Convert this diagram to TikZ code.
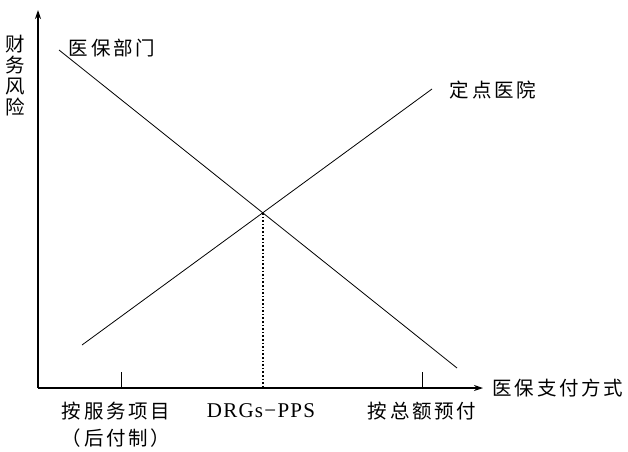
\documentclass[tikz,border=0pt]{standalone}
\usepackage{fontspec}
\usetikzlibrary{arrows.meta}
\newfontfamily\cjk[LetterSpace=14]{Noto Sans CJK SC}
\newfontfamily\lat[LetterSpace=6]{Liberation Serif}
\begin{document}
\begin{tikzpicture}[x=1pt,y=-1pt,
  lbl/.style={inner sep=0pt,font=\cjk\fontsize{19.5}{21}\selectfont},
  axis/.style={line width=1.1pt,-{Stealth[length=9pt,width=6pt]}},
  curve/.style={line width=0.8pt}]
\useasboundingbox (0,0) rectangle (628,451);
\coordinate (O) at (38,388);
\coordinate (ytip) at (38,10);
\coordinate (xtip) at (483,388);
\draw[axis] (O) -- (ytip);
\draw[axis] (O) -- (xtip);
\coordinate (t1a) at (121,372); \coordinate (t1b) at (121,388);
\coordinate (t2a) at (422,372); \coordinate (t2b) at (422,388);
\draw[line width=0.8pt] (t1a) -- (t1b);
\draw[line width=0.8pt] (t2a) -- (t2b);
\coordinate (a1) at (59,50); \coordinate (a2) at (457,368);
\coordinate (b1) at (82,345); \coordinate (b2) at (432,89);
\draw[curve] (a1) -- (a2);
\draw[curve] (b1) -- (b2);
\coordinate (X) at (263,213); \coordinate (Xb) at (263,388);
\draw[line width=1.6pt,dotted] (X) -- (Xb);
\node[lbl,align=center] (ylab) at (15,76) {财\\[0pt]务\\[0pt]风\\[0pt]险};
\node[lbl] (yb) at (112,48) {医保部门};
\node[lbl] (dd) at (493,90) {定点医院};
\node[lbl] (xlab) at (558,388) {医保支付方式};
\node[lbl] (l1) at (116,411) {按服务项目};
\node[lbl] (l1b) at (116,438) {（后付制）};
\node[inner sep=0pt,font=\lat\fontsize{21}{23}\selectfont] (l2) at (261,411) {DRGs−PPS};
\node[lbl] (l3) at (422,411) {按总额预付};
\end{tikzpicture}
\end{document}
